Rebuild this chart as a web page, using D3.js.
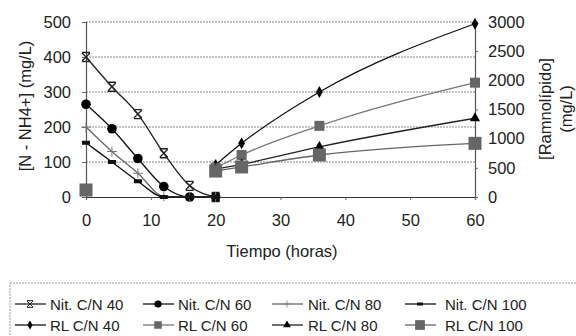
<!DOCTYPE html>
<html>
<head>
<meta charset="utf-8">
<script src="https://cdn.jsdelivr.net/npm/d3@7"></script>
<style>
  body { margin: 0; background: #fff; }
  svg { font-family: "Liberation Sans", Arial, sans-serif; }
</style>
</head>
<body>
<div id="chart"></div>
<script>
// sampling times (h)
const times = [0, 4, 8, 12, 16, 20, 24, 36, 60];

// ammonium nitrogen, left axis (mg/L)
const nit40 = [400, 315, 237, 125, 32, 0, null, null, null];
const nit60 = [265, 195, 110, 30, 0, 0, null, null, null];
const nit80 = [200, 130, 68, 2, 0, 0, null, null, null];
const nit100 = [155, 100, 45, 0, 0, 0, null, null, null];

// rhamnolipid, right axis (mg/L)
const rl40 = [null, null, null, null, null, 550, 920, 1800, 2970];
const rl60 = [null, null, null, null, null, 500, 720, 1220, 1960];
const rl80 = [null, null, null, null, null, 480, 560, 860, 1350];
const rl100 = [120, null, null, null, null, 445, 515, 720, 920];

const leftTicks = [0, 100, 200, 300, 400, 500];
const rightTicks = [0, 500, 1000, 1500, 2000, 2500, 3000];
const xTicks = [0, 10, 20, 30, 40, 50, 60];

const series = [
  { name: 'Nit. C/N 40', vals: nit40, axis: 'l', color: '#222', mark: 'star' },
  { name: 'Nit. C/N 60', vals: nit60, axis: 'l', color: '#111', mark: 'circle' },
  { name: 'Nit. C/N 80', vals: nit80, axis: 'l', color: '#666', mark: 'plus' },
  { name: 'Nit. C/N 100', vals: nit100, axis: 'l', color: '#111', mark: 'dash' },
  { name: 'RL C/N 40', vals: rl40, axis: 'r', color: '#111', mark: 'diamond' },
  { name: 'RL C/N 60', vals: rl60, axis: 'r', color: '#777', mark: 'square' },
  { name: 'RL C/N 80', vals: rl80, axis: 'r', color: '#222', mark: 'triangle' },
  { name: 'RL C/N 100', vals: rl100, axis: 'r', color: '#666', mark: 'bigsquare' }
];

const W = 576, H = 336;
const plot = { left: 86, right: 475, top: 22, bottom: 197 };
const FONT = 16.5;

const svg = d3.select('#chart').append('svg')
  .attr('width', W).attr('height', H);

const x = d3.scaleLinear().domain([0, 60]).range([plot.left, plot.right]);
const yL = d3.scaleLinear().domain([0, 500]).range([plot.bottom, plot.top]);
const yR = d3.scaleLinear().domain([0, 3000]).range([plot.bottom, plot.top]);

// grid lines
svg.append('g').selectAll('line')
  .data(leftTicks.filter(d => d > 0))
  .enter().append('line')
  .attr('x1', plot.left).attr('x2', plot.right)
  .attr('y1', d => yL(d)).attr('y2', d => yL(d))
  .attr('stroke', '#888').attr('stroke-width', 1)
  .attr('stroke-dasharray', '2,1');

// axes
const gx = svg.append('g')
  .attr('transform', `translate(0,${plot.bottom})`)
  .call(d3.axisBottom(x).tickValues(xTicks).tickSize(3).tickPadding(14).tickFormat(d3.format('d')));
const gl = svg.append('g')
  .attr('transform', `translate(${plot.left},0)`)
  .call(d3.axisLeft(yL).tickValues(leftTicks).tickSize(4).tickPadding(11).tickFormat(d3.format('d')));
const gr = svg.append('g')
  .attr('transform', `translate(${plot.right},0)`)
  .call(d3.axisRight(yR).tickValues(rightTicks).tickSize(3).tickPadding(10).tickFormat(d3.format('d')));

[gx, gl, gr].forEach(g => {
  g.select('.domain').attr('stroke', '#555').attr('stroke-width', 1.2);
  g.selectAll('.tick line').attr('stroke', '#666');
  g.selectAll('.tick text').attr('font-size', FONT).attr('fill', '#222')
    .attr('font-family', '"Liberation Sans", Arial, sans-serif');
});
gx.select('.domain').attr('stroke', '#333');

// axis titles
svg.append('text')
  .attr('x', 282).attr('y', 257)
  .attr('text-anchor', 'middle').attr('font-size', FONT).attr('fill', '#222')
  .text('Tiempo (horas)');
svg.append('text')
  .attr('transform', 'translate(31,106) rotate(-90)')
  .attr('text-anchor', 'middle').attr('font-size', FONT).attr('fill', '#222')
  .text('[N - NH4+] (mg/L)');
svg.append('text')
  .attr('transform', 'translate(551,109) rotate(-90)')
  .attr('text-anchor', 'middle').attr('font-size', FONT).attr('fill', '#222')
  .text('[Ramnolípido]');
svg.append('text')
  .attr('transform', 'translate(572,109) rotate(-90)')
  .attr('text-anchor', 'middle').attr('font-size', FONT).attr('fill', '#222')
  .text('(mg/L)');

function drawMark(g, type, color) {
  if (type === 'star') {
    g.append('path').attr('d', 'M-4,-4L4,4M-4,4L4,-4M-4,-4.5L4,-4.5M-4,4.5L4,4.5')
      .attr('stroke', color).attr('stroke-width', 1.3).attr('fill', 'none');
  } else if (type === 'circle') {
    g.append('circle').attr('r', 4.8).attr('fill', '#000');
  } else if (type === 'plus') {
    g.append('path').attr('d', 'M-5,0L5,0M0,-5L0,5')
      .attr('stroke', '#777').attr('stroke-width', 1).attr('fill', 'none');
  } else if (type === 'dash') {
    g.append('rect').attr('x', -4).attr('y', -2).attr('width', 8).attr('height', 4).attr('fill', '#111');
  } else if (type === 'diamond') {
    g.append('path').attr('d', d3.symbol(d3.symbolDiamond, 40)()).attr('fill', '#000');
  } else if (type === 'square') {
    g.append('rect').attr('x', -5).attr('y', -5).attr('width', 10).attr('height', 10).attr('fill', '#666');
  } else if (type === 'triangle') {
    g.append('path').attr('d', d3.symbol(d3.symbolTriangle, 45)()).attr('fill', '#000');
  } else if (type === 'bigsquare') {
    g.append('rect').attr('x', -6.5).attr('y', -6.5).attr('width', 13).attr('height', 13).attr('fill', '#666');
  }
}

// series lines and markers
series.forEach(s => {
  const y = s.axis === 'l' ? yL : yR;
  const pts = times.map((t, i) => ({ t, v: s.vals[i] }));
  const line = d3.line()
    .defined(d => d.v !== null)
    .x(d => x(d.t)).y(d => y(d.v))
    .curve(d3.curveMonotoneX);
  svg.append('path')
    .datum(pts)
    .attr('d', line)
    .attr('fill', 'none')
    .attr('stroke', s.color)
    .attr('stroke-width', 1.3);
  pts.filter(d => d.v !== null).forEach(d => {
    const g = svg.append('g').attr('transform', `translate(${x(d.t)},${y(d.v)})`);
    drawMark(g, s.mark, s.color);
  });
});

// legend
const legend = svg.append('g');
legend.append('rect')
  .attr('x', 10).attr('y', 283).attr('width', 580).attr('height', 70)
  .attr('fill', 'none').attr('stroke', '#999').attr('stroke-dasharray', '2,1');
const colX = [15, 143, 272, 405];
const colText = [50, 178, 308, 445];
const rowY = [304, 325];
series.forEach((s, i) => {
  const cx = colX[i % 4], cy = rowY[Math.floor(i / 4)];
  legend.append('line')
    .attr('x1', cx).attr('x2', cx + 31).attr('y1', cy).attr('y2', cy)
    .attr('stroke', s.color).attr('stroke-width', 1.3);
  drawMark(legend.append('g').attr('transform', `translate(${cx + 15},${cy}) scale(0.75)`), s.mark, s.color);
  legend.append('text')
    .attr('x', colText[i % 4]).attr('y', cy + 5.5)
    .attr('font-size', 15).attr('fill', '#222')
    .text(s.name);
});
</script>
</body>
</html>
